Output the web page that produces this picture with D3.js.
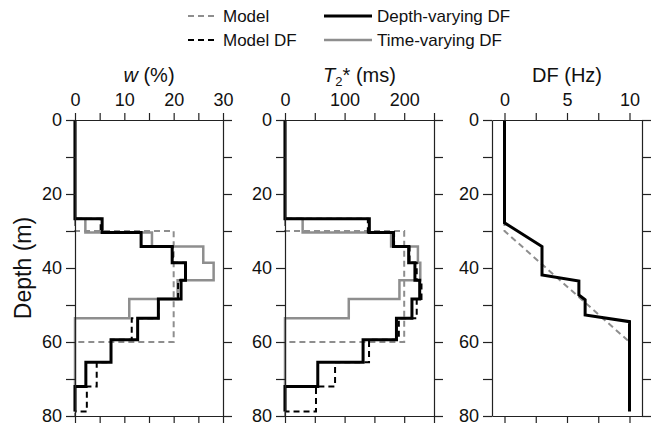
<!DOCTYPE html>
<html><head><meta charset="utf-8">
<script src="https://cdn.jsdelivr.net/npm/d3@7"></script>
<style>
body{margin:0;background:#fff;}
svg{display:block;font-family:"Liberation Sans",Arial,sans-serif;}
</style></head>
<body><svg id="c" width="670" height="426"></svg>
<script>
// Layer boundaries (m)
const layerTops = [0, 26.7, 30.4, 34.2, 38.6, 43.3, 48.4, 53.6, 59.4, 65.5, 72.0];
const layerBottoms = [26.7, 30.4, 34.2, 38.6, 43.3, 48.4, 53.6, 59.4, 65.5, 72.0, 78.8];

// Panel 1: w (%)
const wDepthVarying = [0, 5.5, 13.4, 19.7, 22.4, 21.5, 16.9, 12.7, 7.3, 2.2, 0];
const wModelDF      = [0, 5.2, 13.4, 19.8, 22.3, 20.9, 16.9, 11.5, 7.3, 4.4, 2.4];
const wTimeVarying  = [0, 2.1, 15.6, 26.0, 28.1, 20.8, 11.0, 0, 0, 0, 0];
const modelDepths   = [0, 30, 30, 60, 60, 80];
const wModel        = [0, 0, 20, 20, 0, 0];

// Panel 2: T2* (ms)
const tDepthVarying = [0, 141.5, 182, 207.5, 218, 226, 213, 187, 131, 55, 0];
const tModelDF      = [0, 139, 183, 209, 221, 229, 221, 191, 141, 84, 52];
const tTimeVarying  = [0, 29.6, 178, 223, 227, 192, 107, 0, 0, 0, 0];
const tModel        = [0, 0, 200, 200, 0, 0];

// Panel 3: DF (Hz)
const dfDepths      = [0, 27.8, 34.2, 41.9, 43.5, 47.3, 48.6, 52.7, 54.5, 78.8];
const dfDepthVarying= [0, 0, 3.0, 3.0, 5.95, 5.95, 6.45, 6.45, 10, 10];
const dfModelDepths = [0, 30, 60];
const dfModel       = [0, 0, 10];

// Tick values
const depthTicks = [0, 10, 20, 30, 40, 50, 60, 70, 80];
const depthLabels = [0, 20, 40, 60, 80];
const wTicks = [0, 5, 10, 15, 20, 25, 30], wLabels = [0, 10, 20, 30];
const tTicks = [0, 50, 100, 150, 200, 250], tLabels = [0, 100, 200];
const dfTicks = [0, 2.5, 5, 7.5, 10], dfLabels = [0, 5, 10];

const svg = d3.select("#c");
const y = d3.scaleLinear().domain([0, 80]).range([120, 416]);

const GRAY = "#8e8e8e";
const styles = {
  model:   {stroke: GRAY, width: 2, dash: "6,4"},
  modelDF: {stroke: "#000", width: 2, dash: "6,4"},
  time:    {stroke: GRAY, width: 2.5, dash: null},
  depth:   {stroke: "#000", width: 3, dash: null}
};

function steps(vals, close) {
  const pts = [];
  vals.forEach((v, i) => { pts.push([v, layerTops[i]]); pts.push([v, layerBottoms[i]]); });
  if (close) pts.push([0, layerBottoms[layerBottoms.length - 1]]);
  return pts;
}
function zipPts(vals, depths) { return vals.map((v, i) => [v, depths[i]]); }

function panel(x, ticks, labels, title, series) {
  const [x0, x1] = x.range();
  const g = svg.append("g");
  series.forEach(s => {
    const line = d3.line().x(d => x(d[0])).y(d => y(d[1]));
    const st = styles[s.style];
    g.append("path").attr("d", line(s.pts)).attr("fill", "none")
      .attr("stroke", st.stroke).attr("stroke-width", st.width)
      .attr("stroke-dasharray", st.dash).attr("stroke-linejoin", "miter").attr("stroke-linecap", "butt");
  });
  const fmt = d => labels.includes(d) ? d3.format("d")(d) : "";
  const top = g.append("g").attr("transform", `translate(0,${y(0)})`)
    .call(d3.axisTop(x).tickValues(ticks).tickFormat(fmt).tickSize(7).tickPadding(7).tickSizeOuter(0));
  const bot = g.append("g").attr("transform", `translate(0,${y(80)})`)
    .call(d3.axisBottom(x).tickValues(ticks).tickFormat("").tickSize(7).tickSizeOuter(0));
  const left = g.append("g").attr("transform", `translate(${x0},0)`)
    .call(d3.axisLeft(y).tickValues(depthTicks).tickFormat(d => depthLabels.includes(d) ? d : "").tickSize(9).tickPadding(4).tickSizeOuter(0));
  const right = g.append("g").attr("transform", `translate(${x1},0)`)
    .call(d3.axisRight(y).tickValues(depthTicks).tickFormat("").tickSize(9).tickSizeOuter(0));
  [top, bot, left, right].forEach(a => {
    a.selectAll("path,line").attr("stroke", "#222").attr("stroke-width", 1.2);
    a.selectAll("text").attr("font-size", 18).attr("fill", "#111")
      .attr("font-family", "Liberation Sans, Arial, sans-serif");
  });
  const t = g.append("text").attr("x", (x0 + x1) / 2).attr("y", 82)
    .attr("text-anchor", "middle").attr("font-size", 20).attr("fill", "#111");
  title(t);
}

const xW = d3.scaleLinear().domain([0, 30]).range([75, 223]);
const xT = d3.scaleLinear().domain([0, 250]).range([285, 434]);
const xD = d3.scaleLinear().domain([-1, 11]).range([492, 642]);

panel(xW, wTicks, wLabels, t => {
  t.append("tspan").attr("font-style", "italic").text("w");
  t.append("tspan").text(" (%)");
}, [
  {style: "model", pts: zipPts(wModel, modelDepths)},
  {style: "time", pts: steps(wTimeVarying, false)},
  {style: "modelDF", pts: steps(wModelDF, true)},
  {style: "depth", pts: steps(wDepthVarying, false)}
]);

panel(xT, tTicks, tLabels, t => {
  t.append("tspan").attr("font-style", "italic").text("T");
  t.append("tspan").attr("font-size", 13).attr("dy", 4).text("2");
  t.append("tspan").attr("dy", -4).text("* (ms)");
}, [
  {style: "model", pts: zipPts(tModel, modelDepths)},
  {style: "time", pts: steps(tTimeVarying, false)},
  {style: "modelDF", pts: steps(tModelDF, true)},
  {style: "depth", pts: steps(tDepthVarying, false)}
]);

panel(xD, dfTicks, dfLabels, t => { t.text("DF (Hz)"); }, [
  {style: "model", pts: zipPts(dfModel, dfModelDepths)},
  {style: "depth", pts: zipPts(dfDepthVarying, dfDepths)}
]);

// Y label
svg.append("text").attr("transform", `translate(31,${(y(0) + y(80)) / 2}) rotate(-90)`)
  .attr("text-anchor", "middle").attr("font-size", 23).attr("fill", "#111").text("Depth (m)");

// Legend
const legendItems = [
  {label: "Model", style: "model", x1: 188, x2: 218, tx: 223, ty: 22},
  {label: "Model DF", style: "modelDF", x1: 188, x2: 218, tx: 223, ty: 46},
  {label: "Depth-varying DF", style: "depth", x1: 324, x2: 372, tx: 377, ty: 22},
  {label: "Time-varying DF", style: "time", x1: 324, x2: 372, tx: 377, ty: 46}
];
const lg = svg.append("g");
legendItems.forEach(it => {
  const st = styles[it.style];
  lg.append("line").attr("x1", it.x1).attr("x2", it.x2).attr("y1", it.ty - 6).attr("y2", it.ty - 6)
    .attr("stroke", st.stroke).attr("stroke-width", st.width).attr("stroke-dasharray", st.dash);
  lg.append("text").attr("x", it.tx).attr("y", it.ty).attr("font-size", 17).attr("fill", "#111").text(it.label);
});
</script></body></html>
